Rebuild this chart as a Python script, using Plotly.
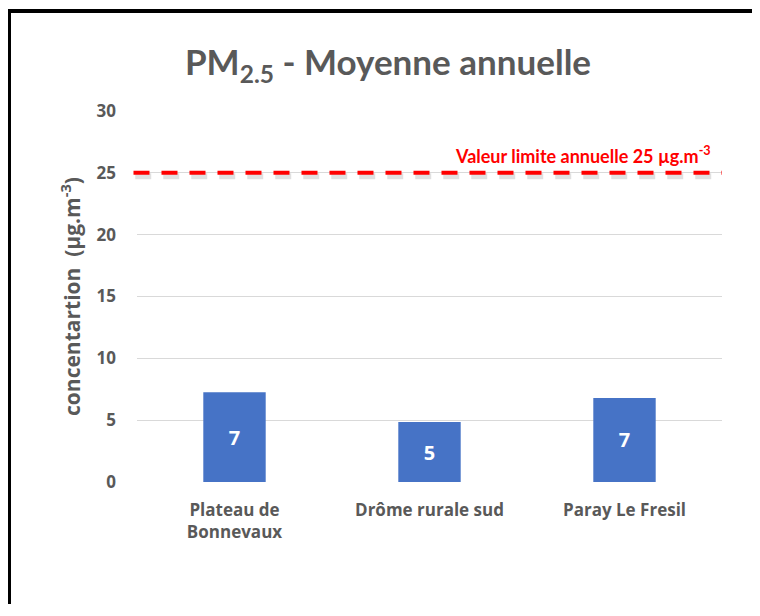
import plotly.graph_objects as go

categories = ["Plateau de<br>Bonnevaux", "Drôme rurale sud", "Paray Le Fresil"]
values = [7.25, 4.85, 6.8]
limit_value = 25
y_ticks = [0, 5, 10, 15, 20, 25, 30]

FONT = "Lato"
FONT2 = "Open Sans"
GREY = "#595959"

W, H = 744, 596
L, R, T, B = 129, 30, 103, 122
PW, PH = W - L - R, H - T - B


def px_x(fx):
    return (fx - L) / PW


def px_y(fy):
    return (H - B - fy) / PH


fig = go.Figure()

fig.add_trace(go.Bar(
    x=categories, y=values, width=0.32,
    marker=dict(color="#4673C6", line=dict(width=0)),
    texttemplate="%{y:.0f}", textposition="inside", insidetextanchor="middle",
    textangle=0,
    textfont=dict(family=FONT2, size=20, color="white", weight="bold"),
    hoverinfo="skip", showlegend=False,
))

# shadow of the limit line
fig.add_shape(type="line", xref="paper", yref="y", x0=-0.003, x1=0.995,
              y0=limit_value - 0.28, y1=limit_value - 0.28,
              line=dict(color="rgba(0,0,0,0.12)", width=6, dash="16px,12px"))
fig.add_shape(type="line", xref="paper", yref="y", x0=-0.006, x1=1.0,
              y0=limit_value, y1=limit_value,
              line=dict(color="#FF0000", width=4, dash="16px,12px"))

fig.add_annotation(xref="paper", yref="y", x=0.985, y=limit_value + 1.45,
                   text="Valeur limite annuelle 25 µg.m<sup>-3</sup>",
                   showarrow=False, xanchor="right", yanchor="middle",
                   font=dict(family=FONT, size=18, color="#FF0000", weight="bold"))

# outer frame (top and left edges) drawn as filled strips
fig.add_shape(type="rect", xref="paper", yref="paper", layer="above",
              x0=px_x(0), x1=px_x(W), y0=px_y(1), y1=px_y(5),
              fillcolor="black", line=dict(width=0))
fig.add_shape(type="rect", xref="paper", yref="paper", layer="above",
              x0=px_x(0), x1=px_x(3), y0=px_y(1), y1=px_y(H),
              fillcolor="black", line=dict(width=0))

fig.update_layout(
    width=W, height=H,
    margin=dict(l=L, r=R, t=T, b=B),
    paper_bgcolor="white", plot_bgcolor="white",
    font=dict(family=FONT2, color=GREY),
    title=dict(text="PM<sub>2.5</sub> - Moyenne annuelle",
               x=380 / W, xanchor="center", xref="container",
               y=1 - 55 / H, yanchor="middle", yref="container",
               font=dict(family=FONT, size=35, color=GREY, weight="bold")),
    bargap=0.68,
    xaxis=dict(showgrid=False, showline=False, ticks="",
               tickfont=dict(family=FONT2, size=17, color=GREY, weight="bold"),
               ticklabelstandoff=16, zeroline=False),
    yaxis=dict(range=[0, 30], tickvals=y_ticks, showgrid=True,
               gridcolor="#D9D9D9", gridwidth=1, zeroline=False,
               showline=False, ticks="",
               tickfont=dict(family=FONT2, size=17, color=GREY, weight="bold"),
               ticklabelstandoff=20,
               title=dict(text="concentartion  (µg.m<sup>-3</sup>)", standoff=10,
                          font=dict(family=FONT2, size=21, color=GREY, weight="bold"))),
)

fig.write_html("out.html", config={"displayModeBar": False})
